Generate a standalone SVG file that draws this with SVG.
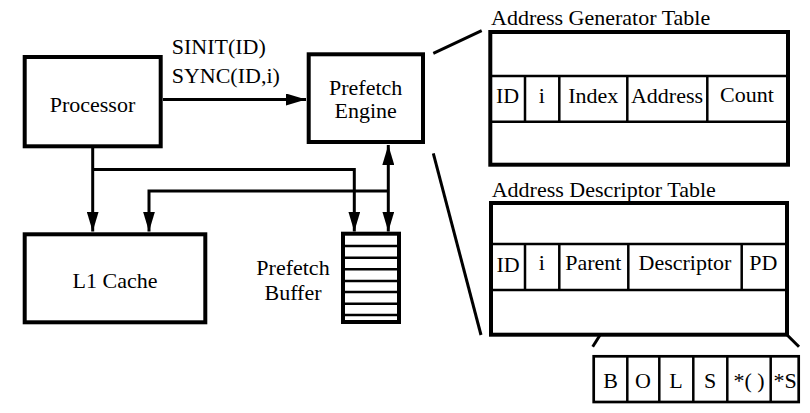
<svg xmlns="http://www.w3.org/2000/svg" width="810" height="413" viewBox="0 0 810 413">
<defs>
<marker id="ah" viewBox="0 0 20 12" refX="20" refY="6" markerWidth="20" markerHeight="12" markerUnits="userSpaceOnUse" orient="auto-start-reverse">
<path d="M0,0L20,6L0,12z" fill="#000"/>
</marker>
</defs>
<rect width="810" height="413" fill="#fff"/>
<g id="connectors" fill="none" stroke="#000" stroke-width="3">
<path d="M163,99.5H306" marker-end="url(#ah)"/>
<path d="M92.7,148V231.5" marker-end="url(#ah)"/>
<path d="M92.7,169.5H354.3V231.5" marker-end="url(#ah)"/>
<path d="M388.3,145V231.5" marker-start="url(#ah)" marker-end="url(#ah)"/>
<path d="M388.3,191H149V231.5" marker-end="url(#ah)"/>
<path d="M433.3,53.3L481.7,30.7"/>
<path d="M433.3,153.3L481,335"/>
<path d="M628.3,290L592.7,346.7"/>
<path d="M741.7,290L799,346.7"/>
</g>
<g id="processor">
<rect x="24.7" y="57" width="136" height="89.3" fill="#fff" stroke="#000" stroke-width="4"/>
<text x="92.5" y="111.5" font-family="Liberation Serif" font-size="22" text-anchor="middle">Processor</text>
</g>
<g id="signals">
<text x="171.7" y="54" font-family="Liberation Serif" font-size="22">SINIT(ID)</text>
<text x="171.7" y="82.5" font-family="Liberation Serif" font-size="22">SYNC(ID,i)</text>
</g>
<g id="prefetch-engine">
<rect x="308.7" y="54.3" width="114.3" height="87.7" fill="#fff" stroke="#000" stroke-width="4"/>
<text x="365.7" y="95" font-family="Liberation Serif" font-size="22" text-anchor="middle">Prefetch</text>
<text x="365.7" y="118.3" font-family="Liberation Serif" font-size="22" text-anchor="middle">Engine</text>
</g>
<g id="l1-cache">
<rect x="24.7" y="234.3" width="180.6" height="88" fill="#fff" stroke="#000" stroke-width="4"/>
<text x="115" y="288.3" font-family="Liberation Serif" font-size="22" text-anchor="middle">L1 Cache</text>
</g>
<g id="prefetch-buffer">
<rect x="343" y="233.7" width="56" height="88.3" fill="#fff" stroke="#000" stroke-width="4"/>
<path d="M343,246H399M343,257.7H399M343,269.3H399M343,281H399M343,292H399M343,303.7H399M343,315H399" fill="none" stroke="#000" stroke-width="2.5"/>
<text x="293" y="275" font-family="Liberation Serif" font-size="22" text-anchor="middle">Prefetch</text>
<text x="293" y="300" font-family="Liberation Serif" font-size="22" text-anchor="middle">Buffer</text>
</g>
<g id="address-generator-table">
<text x="491" y="25" font-family="Liberation Serif" font-size="22">Address Generator Table</text>
<rect x="490.3" y="32" width="297.7" height="132.7" fill="#fff" stroke="#000" stroke-width="4"/>
<path d="M490.3,76H788M490.3,121.7H788M525,76V121.7M559.3,76V121.7M627.3,76V121.7M707.3,76V121.7" fill="none" stroke="#000" stroke-width="2.5"/>
<text x="507.5" y="103.3" font-family="Liberation Serif" font-size="22" text-anchor="middle">ID</text>
<text x="541.7" y="103.3" font-family="Liberation Serif" font-size="22" text-anchor="middle">i</text>
<text x="593.3" y="103.3" font-family="Liberation Serif" font-size="22" text-anchor="middle">Index</text>
<text x="667" y="103.3" font-family="Liberation Serif" font-size="22" text-anchor="middle">Address</text>
<text x="747" y="102" font-family="Liberation Serif" font-size="22" text-anchor="middle">Count</text>
</g>
<g id="address-descriptor-table">
<text x="491.7" y="196.7" font-family="Liberation Serif" font-size="22">Address Descriptor Table</text>
<rect x="491" y="203" width="296" height="131.7" fill="#fff" stroke="#000" stroke-width="4"/>
<path d="M491,244H787M491,290H787M525,244V290M559.3,244V290M628.3,244V290M741.7,244V290" fill="none" stroke="#000" stroke-width="2.5"/>
<text x="508" y="271.5" font-family="Liberation Serif" font-size="22" text-anchor="middle">ID</text>
<text x="541.7" y="270" font-family="Liberation Serif" font-size="22" text-anchor="middle">i</text>
<text x="593.3" y="270" font-family="Liberation Serif" font-size="22" text-anchor="middle">Parent</text>
<text x="685" y="270" font-family="Liberation Serif" font-size="22" text-anchor="middle">Descriptor</text>
<text x="763.3" y="270" font-family="Liberation Serif" font-size="22" text-anchor="middle">PD</text>
</g>
<g id="descriptor-fields">
<rect x="593.7" y="356.3" width="205" height="45.7" fill="#fff" stroke="#000" stroke-width="2.7"/>
<path d="M627.3,356.3V402M659.3,356.3V402M693.3,356.3V402M727.3,356.3V402M770.7,356.3V402" fill="none" stroke="#000" stroke-width="2.5"/>
<text x="610.5" y="388.3" font-family="Liberation Serif" font-size="22" text-anchor="middle">B</text>
<text x="643" y="388.3" font-family="Liberation Serif" font-size="22" text-anchor="middle">O</text>
<text x="676" y="388.3" font-family="Liberation Serif" font-size="22" text-anchor="middle">L</text>
<text x="710" y="388.3" font-family="Liberation Serif" font-size="22" text-anchor="middle">S</text>
<text x="749" y="388.3" font-family="Liberation Serif" font-size="22" text-anchor="middle">*( )</text>
<text x="785" y="388.3" font-family="Liberation Serif" font-size="22" text-anchor="middle">*S</text>
</g>
</svg>
